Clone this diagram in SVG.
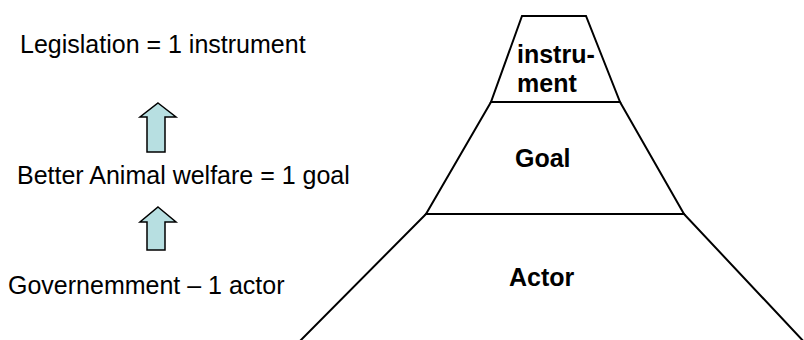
<svg xmlns="http://www.w3.org/2000/svg" width="804" height="340" viewBox="0 0 804 340">
<style>
.lbl{font-family:"Liberation Sans",Arial,sans-serif;font-size:25px;fill:#000}
.b{font-family:"Liberation Sans",Arial,sans-serif;font-size:25px;font-weight:bold;fill:#000}
.seg{fill:#fff;stroke:#000;stroke-width:2;stroke-linejoin:miter}
.arr{fill:#b7dfe1;stroke:#000;stroke-width:1.5;stroke-linejoin:miter}
</style>
<rect width="804" height="340" fill="#fff"/>
<g id="pyramid-bottom"><polygon class="seg" points="426,214 684,214 807,345 296,345"/><text class="b" x="509" y="286">Actor</text></g>
<g id="pyramid-middle"><polygon class="seg" points="491,102 620,102 684,214 426,214"/><text class="b" x="515" y="167">Goal</text></g>
<g id="pyramid-top"><polygon class="seg" points="522,16 586,16 620,102 491,102"/><text class="b" x="517" y="63">instru-</text><text class="b" x="517" y="92">ment</text></g>
<g id="legislation"><text class="lbl" x="20" y="53">Legislation = 1 instrument</text></g>
<g id="welfare"><text class="lbl" x="17" y="184">Better Animal welfare = 1 goal</text></g>
<g id="government"><text class="lbl" x="8" y="294">Governemment – 1 actor</text></g>
<g id="connectors">
<polygon class="arr" points="158,103 176,117 165,117 165,152 147,152 147,117 140,117"/>
<polygon class="arr" points="158,207 176,222 165,222 165,250 147,250 147,222 140,222"/>
</g>
</svg>
